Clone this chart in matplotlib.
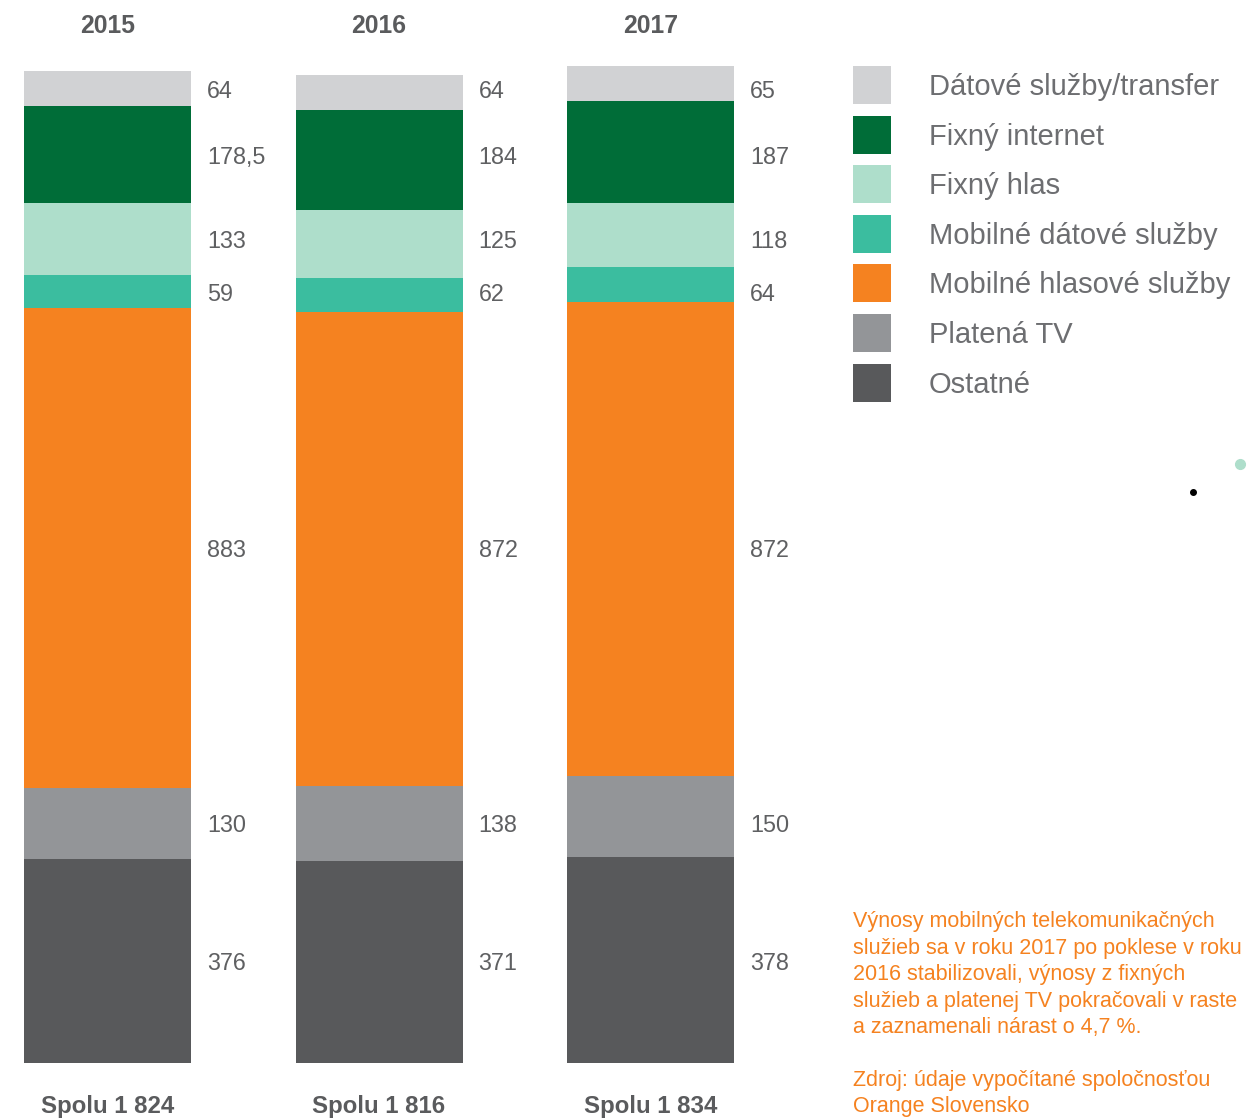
import matplotlib
matplotlib.use("Agg")
import matplotlib.pyplot as plt
from matplotlib.patches import Rectangle
import numpy as np

plt.rcParams['font.family'] = ['Liberation Sans', 'DejaVu Sans']

# data (bottom to top of each bar)
years = ['2015', '2016', '2017']
categories = ['Ostatné', 'Platená TV', 'Mobilné hlasové služby', 'Mobilné dátové služby',
              'Fixný hlas', 'Fixný internet', 'Dátové služby/transfer']
ostatne = [376, 371, 378]
platena_tv = [130, 138, 150]
mob_hlas = [883, 872, 872]
mob_dat = [59, 62, 64]
fix_hlas = [133, 125, 118]
fix_int = [178.5, 184, 187]
datove = [64, 64, 65]
totals = ['1 824', '1 816', '1 834']
note_lines = ['Výnosy mobilných telekomunikačných',
              'služieb sa v roku 2017 po poklese v roku',
              '2016 stabilizovali, výnosy z fixných',
              'služieb a platenej TV pokračovali v raste',
              'a zaznamenali nárast o 4,7 %.',
              '',
              'Zdroj: údaje vypočítané spoločnosťou',
              'Orange Slovensko']

colors = ['#58595b', '#939598', '#f58220', '#3bbd9f', '#aedecb', '#006d38', '#d1d2d4']
series = [ostatne, platena_tv, mob_hlas, mob_dat, fix_hlas, fix_int, datove]

W, H = 1253, 1118
fig = plt.figure(figsize=(W / 100, H / 100), dpi=100)

# bar axes: baseline at pixel row 1063
px_per_unit = 992 / 1824
step_px = 271.5
ax = fig.add_axes([0, (H - 1063) / H, 1, 1063 / H])
ax.set_ylim(0, 1063 / px_per_unit)
ax.set_xlim(-107.5 / step_px, (W - 107.5) / step_px)
ax.axis('off')

x = np.arange(len(years))
bw = 167 / step_px
bottom = np.zeros(len(years))
label_rows = []
for vals, col in zip(series, colors):
    vals = np.array(vals, dtype=float)
    ax.bar(x, vals, bw, bottom=bottom, color=col, linewidth=0)
    label_rows.append(bottom[0] + vals[0] / 2)
    bottom += vals

# value labels, aligned in rows like the original
for vals, row in zip(series, label_rows):
    for xi, v in zip(x, vals):
        ax.text(xi + bw / 2 + 16 / step_px, row, f"{v:g}".replace('.', ','),
                ha='left', va='center_baseline', fontsize=16.8, color='#5f6062')

# overlay in pixel coordinates for titles, legend and note
ov = fig.add_axes([0, 0, 1, 1], facecolor='none')
ov.set_xlim(0, W)
ov.set_ylim(H, 0)
ov.axis('off')

centers = 107.5 + x * step_px
for cx, yr, tot in zip(centers, years, totals):
    ov.text(cx, 26, yr, ha='center', va='center', fontsize=17.8,
            fontweight='bold', color='#5a5b5d')
    ov.text(cx, 1106, f"Spolu {tot}", ha='center', va='center', fontsize=17.3,
            fontweight='bold', color='#5a5b5d')

# legend, top entry first
for i, (lab, col) in enumerate(zip(categories[::-1], colors[::-1])):
    yc = 85 + i * 49.6
    ov.add_patch(Rectangle((853, yc - 19), 38, 38, color=col, linewidth=0))
    ov.text(929, yc + 2, lab, ha='left', va='center', fontsize=21, color='#6d6e71')

# note text
for i, line in enumerate(note_lines):
    ov.text(853, 922 + i * 26.4, line, ha='left', va='center',
            fontsize=15.5, color='#f58220')

# stray dots in the original
ov.plot([1240], [464], 'o', color='#aedecb', markersize=7)
ov.plot([1193], [492], 'o', color='black', markersize=4)

fig.savefig('out.png', dpi=100)
